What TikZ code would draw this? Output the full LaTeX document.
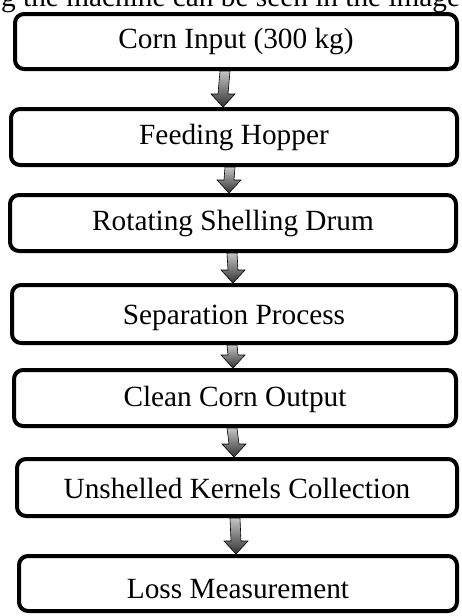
\documentclass[tikz,border=0pt]{standalone}
\usepackage{fontspec}
\setmainfont{Liberation Serif}
\usetikzlibrary{positioning,calc,shadows}

\begin{document}
\begin{tikzpicture}
                    [x=1pt,y=1pt,
                     stage/.style={draw,line width=4pt,rounded corners=9pt,fill=white,inner ysep=0pt,
                                   text height=21pt,text depth=7pt,
                                   font=\fontsize{29.3}{35}\selectfont,
                                   drop shadow={opacity=0.25,shadow xshift=1.5pt,shadow yshift=-1.5pt}},
                     flow/.style={draw=black,line width=0.6pt,top color=gray!45,bottom color=black!80}]

                        \useasboundingbox (0,0) rectangle (461,-616);
                        \clip (0,0) rectangle (461,-616);

                        % running text of the page, cut by the top edge
                        \node[anchor=base west,inner sep=0pt,font=\fontsize{29.3}{35}\selectfont] (caption) at (1,-6) {g the machine can be seen in the image};

                        \node[stage,minimum width=442pt,minimum height=55pt] (corn) at (236,-41.5) {Corn Input (300 kg)};
                        \node[stage,minimum width=446pt,minimum height=56pt] (hopper) at (234,-137) {Feeding Hopper};
                        \node[stage,minimum width=446pt,minimum height=56pt] (drum) at (233,-223) {Rotating Shelling Drum};
                        \node[stage,minimum width=444pt,minimum height=58pt,text height=27pt] (separation) at (234,-314) {Separation Process};
                        \node[stage,minimum width=442pt,minimum height=56pt,text height=23pt] (clean) at (235,-398) {Clean Corn Output};
                        \node[stage,minimum width=440pt,minimum height=57pt,text height=29pt] (kernels) at (237,-487.5) {Unshelled Kernels Collection};
                        \node[stage,minimum width=438pt,minimum height=55pt,text height=37pt] (loss) at (238,-583.5) {Loss Measurement};

                        \foreach \a/\b/\dx in {corn/hopper/-11,hopper/drum/-4,drum/separation/-1,
                                               separation/clean/-2,clean/kernels/-3,kernels/loss/-2}
                          \draw[flow] ($(\a.south)+(\dx-5,0)$) -- ($(\b.north)+(\dx-5,13)$)
                                      -- ($(\b.north)+(\dx-12,13)$) -- ($(\b.north)+(\dx,0)$)
                                      -- ($(\b.north)+(\dx+12,13)$) -- ($(\b.north)+(\dx+5,13)$)
                                      -- ($(\a.south)+(\dx+5,0)$) -- cycle;

                \end{tikzpicture}
\end{document}
